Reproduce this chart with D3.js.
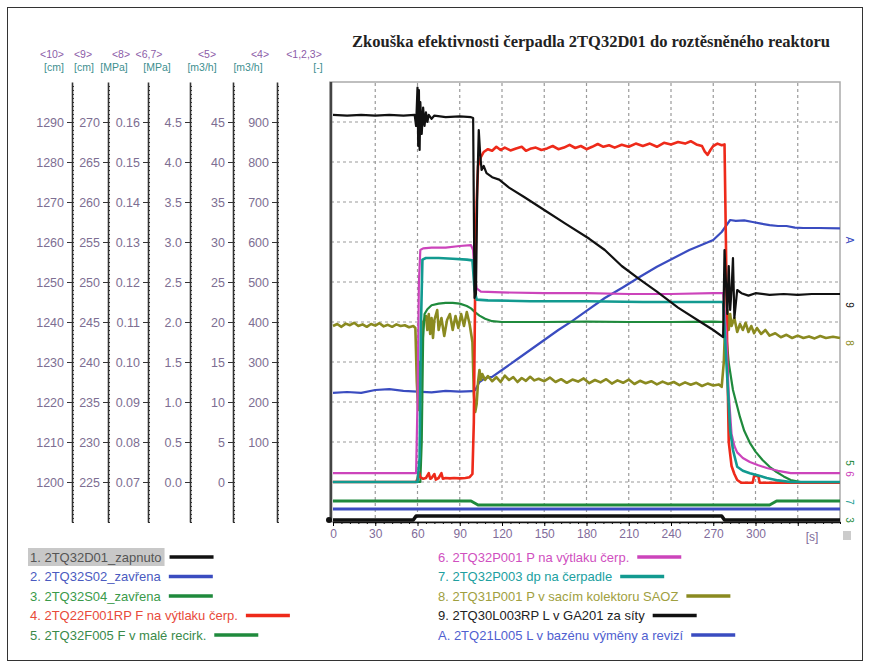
<!DOCTYPE html>
<html>
<head>
<meta charset="utf-8">
<script src="https://cdnjs.cloudflare.com/ajax/libs/d3/7.8.5/d3.min.js"></script>
<style>
body { margin: 0; background: #fff; }
svg { font-family: "Liberation Sans", Arial, sans-serif; }
.grid line { stroke: #9a9a9a; stroke-dasharray: 3,3; stroke-width: 1.2; }
.line { fill: none; stroke-width: 2.2; stroke-linejoin: round; }
.laxis path, .laxis line { stroke: #333; }
.laxis text { fill: #7d6e92; font-size: 12.5px; }
</style>
</head>
<body>
<svg id="chart" width="869" height="668"></svg>
<script>
// Global Variables
var title = "Zkouška efektivnosti čerpadla 2TQ32D01 do roztěsněného reaktoru";
var xTicks = [0, 30, 60, 90, 120, 150, 180, 210, 240, 270, 300];

// tick labels of the left axes
var ticksCm10 = [1200, 1210, 1220, 1230, 1240, 1250, 1260, 1270, 1280, 1290];
var ticksCm9 = [225, 230, 235, 240, 245, 250, 255, 260, 265, 270];
var ticksMPa8 = [0.07, 0.08, 0.09, 0.10, 0.11, 0.12, 0.13, 0.14, 0.15, 0.16];
var ticksMPa67 = [0.0, 0.5, 1.0, 1.5, 2.0, 2.5, 3.0, 3.5, 4.0, 4.5];
var ticksM5 = [0, 5, 10, 15, 20, 25, 30, 35, 40, 45];
var ticksM4 = [100, 200, 300, 400, 500, 600, 700, 800, 900];

var legendLeft = ["1. 2TQ32D01_zapnuto", "2. 2TQ32S02_zavřena", "3. 2TQ32S04_zavřena",
    "4. 2TQ22F001RP F na výtlaku čerp.", "5. 2TQ32F005 F v malé recirk."];
var legendRight = ["6. 2TQ32P001 P na výtlaku čerp.", "7. 2TQ32P003 dp na čerpadle",
    "8. 2TQ31P001 P v sacím kolektoru SAOZ", "9. 2TQ30L003RP L v GA201 za síty",
    "A. 2TQ21L005 L v bazénu výměny a revizí"];

// series [time s, value]
var zapnuto = [[0,0],[57,0],[59,1],[276,1],[278,0],[360,0]];
var s02 = [[0,0],[360,0]];
var s04 = [[0,1],[98,1],[103,0],[310,0],[315,1],[360,1]];

var flowF001 = [[0,0],[20,0],[40,0],[59,0],[60,8],[61,25],[62,12],[64,8],[66,10],[68,22],[69,8],[70,10],
    [72,20],[73,6],[75,10],[77,22],[78,8],[80,10],[83,9],[86,10],[90,9],[94,10],[97,12],[99,20],
    [100,150],[101,500],[102,700],[103,790],[105,812],[107,825],[110,832],[113,828],[116,838],[119,830],
    [122,836],[126,829],[130,834],[134,838],[137,828],[140,833],[144,836],[148,830],[152,834],[156,840],
    [160,832],[164,836],[168,843],[172,835],[176,840],[180,832],[184,838],[188,845],[192,838],[196,842],
    [200,836],[205,843],[210,838],[215,846],[220,840],[225,846],[230,838],[235,848],[240,844],[245,850],
    [250,846],[254,852],[258,844],[262,840],[264,826],[266,818],[268,830],[270,840],[273,846],[276,842],
    [278,844],[279,600],[280,300],[281,100],[283,40],[285,20],[287,5],[290,-2],[295,-2],[298,-2],
    [299,15],[302,15],[303,-2],[310,-2],[320,-2],[340,-2],[360,-2]];

var flowF005 = [[0,0],[30,0],[62,0],[63,5],[64,18],[65,21],[67,21.6],[70,22.1],[75,22.3],[80,22.4],
    [85,22.4],[90,22.3],[95,22],[98,21.7],[101,21.2],[104,20.8],[108,20.4],[113,20.1],[120,20],[150,20],
    [180,20.05],[210,20],[240,20],[270,20.05],[278,20],[279.5,18],[281,14.9],[284,11.5],[289,8.1],
    [292,6.4],[296,4.9],[300,3.8],[305,2.75],[310,1.9],[315,1.25],[320,0.7],[325,0.25],[332,0],[360,0]];

var pressP001 = [[0,0.11],[30,0.11],[59,0.11],[60,1.0],[61,2.5],[62,2.9],[64,2.92],[70,2.93],[80,2.93],
    [90,2.95],[98,2.96],[99.5,2.9],[100.5,2.6],[102,2.42],[105,2.38],[120,2.37],[150,2.36],[180,2.36],
    [210,2.35],[240,2.35],[270,2.36],[277,2.36],[279,1.9],[281,1.1],[283,0.6],[285,0.45],[287,0.37],
    [291,0.3],[296,0.25],[302,0.21],[308,0.175],[316,0.14],[325,0.11],[340,0.11],[360,0.11]];

var dpP003 = [[0,0],[30,0],[60,0],[61.5,0.3],[62.5,2.0],[63.5,2.78],[66,2.8],[75,2.8],[85,2.79],[95,2.78],
    [99,2.77],[100.5,2.4],[102,2.28],[110,2.27],[140,2.26],[180,2.26],[220,2.25],[260,2.25],[277,2.25],
    [279,1.6],[282,0.65],[284,0.4],[287,0.19],[291,0.14],[296,0.11],[302,0.08],[308,0.05],[316,0.02],
    [325,0],[360,0]];

var pressP001s = [[0,0.109],[3,0.1095],[6,0.1088],[9,0.1096],[12,0.1092],[15,0.1098],[18,0.109],
    [21,0.1094],[24,0.1088],[27,0.1095],[30,0.1091],[33,0.1097],[36,0.1089],[39,0.1093],[42,0.1088],
    [45,0.1094],[48,0.109],[51,0.1092],[54,0.1087],[57,0.109],[58.5,0.1085],[59.5,0.095],[60.5,0.088],
    [61.5,0.1],[62,0.09],[63,0.105],[64,0.11],[66,0.1115],[67,0.108],[68,0.112],[69,0.107],[70,0.111],
    [71,0.106],[72,0.1105],[74,0.113],[75,0.108],[77,0.111],[79,0.1065],[81,0.1105],[83,0.112],[85,0.108],
    [87,0.1115],[89,0.1085],[91,0.112],[93,0.109],[95,0.1125],[97,0.1095],[99,0.105],[100,0.092],
    [101,0.0875],[102,0.0895],[103,0.095],[104,0.098],[105,0.0955],[106,0.097],[108,0.0955],[110,0.0965],
    [113,0.0952],[116,0.0962],[119,0.095],[122,0.0966],[125,0.0955],[128,0.0962],[131,0.095],[134,0.096],
    [137,0.0953],[140,0.0963],[143,0.0954],[146,0.0958],[150,0.0952],[154,0.0961],[158,0.095],
    [162,0.0957],[166,0.0948],[170,0.0956],[174,0.0951],[178,0.0959],[182,0.0947],[186,0.0955],
    [190,0.0949],[194,0.0957],[198,0.0946],[202,0.0954],[206,0.0948],[210,0.0956],[214,0.0945],
    [218,0.0953],[222,0.0947],[226,0.0952],[230,0.0944],[234,0.0951],[238,0.0945],[242,0.095],
    [246,0.0942],[250,0.0949],[254,0.0943],[258,0.0948],[262,0.094],[266,0.0946],[270,0.0941],
    [274,0.0944],[276,0.0938],[277.5,0.1],[278.5,0.11],[280,0.113],[281,0.108],[282,0.112],[283,0.109],
    [285,0.111],[287,0.1075],[289,0.1095],[291,0.108],[293,0.1098],[295,0.1075],[297,0.109],[299,0.1072],
    [301,0.1085],[304,0.107],[307,0.108],[310,0.1066],[314,0.1072],[318,0.1062],[322,0.1068],[326,0.106],
    [330,0.1066],[334,0.106],[338,0.1064],[342,0.1059],[346,0.1065],[350,0.106],[355,0.1063],[360,0.106]];

var levelL003 = [[0,270.9],[10,270.8],[20,270.9],[30,270.8],[40,270.9],[50,270.8],[58,270.9],[59,269.5],
    [60,274.3],[60.5,267],[61,274],[61.5,266.5],[62,272.5],[63,268.5],[64,271.8],[65,269.5],[66,271.2],
    [67,270],[68,270.9],[70,270.4],[72,270.8],[80,270.6],[90,270.7],[98,270.6],[99.5,270.5],[100.5,248],
    [101.5,248.5],[102.5,262],[103.5,269],[104.5,266],[105.5,264],[107,264.5],[109,263.6],[113,263.1],
    [118,262.8],[125,261.8],[136,260.6],[150,259],[165,257.3],[182,255.4],[193,254],[205,252],[218,250.3],
    [230,248.8],[245,246.8],[261,245],[270,244],[277,243.1],[278,254],[279,250],[280,246],[281,252],
    [282,246.5],[283,249],[284,253],[285,245.5],[287,249],[290,248.6],[295,248.3],[300,248.6],[310,248.4],
    [320,248.5],[330,248.4],[340,248.5],[350,248.5],[360,248.5]];

var levelL005 = [[0,1222.3],[10,1222.5],[20,1222.3],[30,1223],[40,1223.2],[50,1222.8],[60,1222.6],
    [70,1222.4],[80,1222.8],[90,1222.6],[99,1222.7],[101,1223],[104,1225],[108,1226],[113,1226.3],
    [120,1228],[130,1230.5],[140,1233],[150,1235.5],[160,1238],[170,1240.3],[180,1242.8],[193,1246],
    [206,1248.7],[218,1251.3],[230,1253.8],[242,1256],[253,1258],[262,1259.3],[270,1260.5],[276,1262.5],
    [282,1265.5],[286,1265.3],[292,1265.4],[298,1265],[304,1264.6],[310,1264.2],[316,1264],[322,1264],
    [328,1263.6],[334,1263.5],[345,1263.5],[360,1263.4]];

var cBlack = '#111', cBlue = '#3a4cc0', cGreen = '#1f8a3c', cRed = '#ee2a1a',
    cMag = '#cc44bb', cTeal = '#129a90', cOlive = '#8a8a20';

// Scales
var x = d3.scaleLinear().domain([0, 360]).range([333, 840]);
var yCm10 = d3.scaleLinear().domain([1190, 1300]).range([522, 82]);
var yCm9 = d3.scaleLinear().domain([220, 275]).range([522, 82]);
var yMPa8 = d3.scaleLinear().domain([0.06, 0.17]).range([522, 82]);
var yMPa67 = d3.scaleLinear().domain([-0.5, 5.0]).range([522, 82]);
var yM5 = d3.scaleLinear().domain([-5, 50]).range([522, 82]);
var yM4 = d3.scaleLinear().domain([-100, 1000]).range([522, 82]);
var yBin1 = d3.scaleLinear().domain([0, 1]).range([520, 516]);
var yBin2 = d3.scaleLinear().domain([0, 1]).range([509, 505]);
var yBin3 = d3.scaleLinear().domain([0, 1]).range([505, 501]);

var svg = d3.select('#chart');

// page frame
svg.append('rect').attr('x', 7.5).attr('y', 7.5).attr('width', 855).attr('height', 653)
    .attr('fill', 'none').attr('stroke', '#333');

svg.append('text').attr('x', 591).attr('y', 47).attr('text-anchor', 'middle')
    .style('font-family', '"Liberation Serif", "Times New Roman", serif')
    .style('font-weight', 'bold').style('font-size', '16.5px').style('fill', '#222')
    .text(title);

// left axes
var leftAxes = [
    {x: 72, s: yCm10, t: ticksCm10, f: 'd', step: 10, head: '<10>', hx: 52, unit: '[cm]', ux: 54},
    {x: 108, s: yCm9, t: ticksCm9, f: 'd', step: 5, head: '<9>', hx: 83, unit: '[cm]', ux: 84},
    {x: 148, s: yMPa8, t: ticksMPa8, f: '.2f', step: 0.01, head: '<8>', hx: 121, unit: '[MPa]', ux: 114},
    {x: 190, s: yMPa67, t: ticksMPa67, f: '.1f', step: 0.5, head: '<6,7>', hx: 149, unit: '[MPa]', ux: 157},
    {x: 233, s: yM5, t: ticksM5, f: 'd', step: 5, head: '<5>', hx: 207, unit: '[m3/h]', ux: 202},
    {x: 277, s: yM4, t: ticksM4, f: 'd', step: 100, head: '<4>', hx: 260, unit: '[m3/h]', ux: 248}
];

leftAxes.forEach(function(ax) {
    var d0 = ax.s.domain();
    var minor = d3.range(0, 110).map(function(i) { return d0[0] + i * ax.step / 10; });
    var g = svg.append('g').attr('class', 'laxis').attr('transform', 'translate(' + ax.x + ',0)');
    g.append('g').call(d3.axisRight(ax.s).tickValues(minor).tickSize(2).tickFormat(''))
        .select('.domain').remove();
    g.append('g').call(d3.axisLeft(ax.s).tickValues(ax.t).tickSize(5).tickPadding(3)
        .tickSizeOuter(0).tickFormat(d3.format(ax.f)))
        .select('.domain').style('stroke-width', 1.6);
    svg.append('text').attr('x', ax.hx).attr('y', 58).attr('text-anchor', 'middle')
        .style('font-size', '10.5px').style('fill', '#8c5ca8').text(ax.head);
    svg.append('text').attr('x', ax.ux).attr('y', 71).attr('text-anchor', 'middle')
        .style('font-size', '10.5px').style('fill', '#3d8f8f').text(ax.unit);
});
svg.append('text').attr('x', 304).attr('y', 58).attr('text-anchor', 'middle')
    .style('font-size', '10.5px').style('fill', '#8c5ca8').text('<1,2,3>');
svg.append('text').attr('x', 318).attr('y', 71).attr('text-anchor', 'middle')
    .style('font-size', '10.5px').style('fill', '#3d8f8f').text('[-]');

// plot frame and grid
svg.append('rect').attr('x', 330).attr('y', 82).attr('width', 510).attr('height', 440)
    .attr('fill', '#fff').attr('stroke', '#aaa').attr('stroke-width', 1.5);

var grid = svg.append('g').attr('class', 'grid');
grid.selectAll('.gv').data(d3.range(30, 331, 30)).enter().append('line')
    .attr('x1', function(d) { return x(d); }).attr('x2', function(d) { return x(d); })
    .attr('y1', 83).attr('y2', 521);
grid.selectAll('.gh').data(ticksCm10).enter().append('line')
    .attr('x1', 331).attr('x2', 839)
    .attr('y1', function(d) { return yCm10(d); }).attr('y2', function(d) { return yCm10(d); });

// x axis
var xg = svg.append('g').attr('transform', 'translate(0,522)');
xg.append('g').call(d3.axisBottom(x).tickValues(d3.range(0, 361, 6)).tickSize(2).tickFormat(''))
    .select('.domain').remove();
xg.append('g').call(d3.axisBottom(x).tickValues(xTicks.concat([330])).tickSize(4).tickPadding(3)
    .tickSizeOuter(0).tickFormat(function(d) { return d === 330 ? '' : d; }))
    .call(function(g) {
        g.select('.domain').style('stroke', '#111').style('stroke-width', 1.5);
        g.selectAll('text').style('fill', '#7f6c9a').style('font-size', '12px');
    });
svg.append('text').attr('x', 812).attr('y', 541).attr('text-anchor', 'middle')
    .style('font-size', '12px').style('fill', '#7f6c9a').text('[s]');
svg.append('rect').attr('x', 843).attr('y', 531).attr('width', 8).attr('height', 9).attr('fill', '#ccc');

// plot left edge
svg.append('line').attr('x1', 331).attr('x2', 331).attr('y1', 82).attr('y2', 522)
    .attr('stroke', '#444').attr('stroke-width', 2.5);

// Lines
function drawSeries(data, yScale, colr, width) {
    var valueline = d3.line()
        .x(function(d) { return x(d[0]); })
        .y(function(d) { return yScale(d[1]); });
    svg.append('path').attr('class', 'line').style('stroke', colr)
        .style('stroke-width', width || 2.2).attr('d', valueline(data));
}

drawSeries(s02, yBin2, cBlue, 3);
drawSeries(s04, yBin3, cGreen, 3);
drawSeries(zapnuto, yBin1, cBlack, 3.5);
svg.append('circle').attr('cx', 329).attr('cy', yBin1(0)).attr('r', 3).attr('fill', cBlack);
drawSeries(levelL005, yCm10, cBlue);
drawSeries(pressP001s, yMPa8, cOlive, 2.6);
drawSeries(flowF005, yM5, cGreen);
drawSeries(flowF001, yM4, cRed, 2.6);
drawSeries(pressP001, yMPa67, cMag);
drawSeries(dpP003, yMPa67, cTeal, 2.6);
drawSeries(levelL003, yCm9, cBlack);

// small rotated marks at the right edge
var rightMarks = [
    {t: 'A', y: 240, c: cBlue}, {t: '9', y: 305, c: cBlack}, {t: '8', y: 343, c: cOlive},
    {t: '5', y: 463, c: cGreen}, {t: '6', y: 474, c: cMag}, {t: '7', y: 502, c: cTeal},
    {t: '3', y: 520, c: cGreen}
];
rightMarks.forEach(function(m) {
    svg.append('text').attr('transform', 'translate(846,' + m.y + ') rotate(90)')
        .attr('text-anchor', 'middle').style('font-size', '10px').style('fill', m.c).text(m.t);
});

// Legends
var leftCols = [cBlack, cBlue, cGreen, cRed, cGreen];
var leftText = ['#555', '#4a5ac0', '#3a9a4a', '#e84a3a', '#3a8a4a'];
var rightCols = [cMag, cTeal, cOlive, cBlack, cBlue];
var rightText = ['#d050c0', '#20a0a0', '#a0a040', '#222', '#5060d0'];

function drawLegend(labels, x0, lineCols, textCols, highlightFirst) {
    labels.forEach(function(lab, i) {
        var yy = 557 + i * 19.5;
        var t = svg.append('text').attr('x', x0).attr('y', yy).attr('dy', '0.35em')
            .style('font-size', '13px').style('fill', textCols[i]).text(lab);
        var w = t.node().getComputedTextLength();
        if (highlightFirst && i === 0) {
            svg.insert('rect', 'text').attr('x', x0 - 2).attr('y', yy - 9).attr('width', w + 5)
                .attr('height', 18).attr('fill', '#c8c8c8');
        }
        svg.append('line').attr('x1', x0 + w + 8).attr('x2', x0 + w + 52)
            .attr('y1', yy).attr('y2', yy).attr('stroke', lineCols[i]).attr('stroke-width', 3.5);
    });
}
drawLegend(legendLeft, 30, leftCols, leftText, true);
drawLegend(legendRight, 438, rightCols, rightText, false);
</script>
</body>
</html>
